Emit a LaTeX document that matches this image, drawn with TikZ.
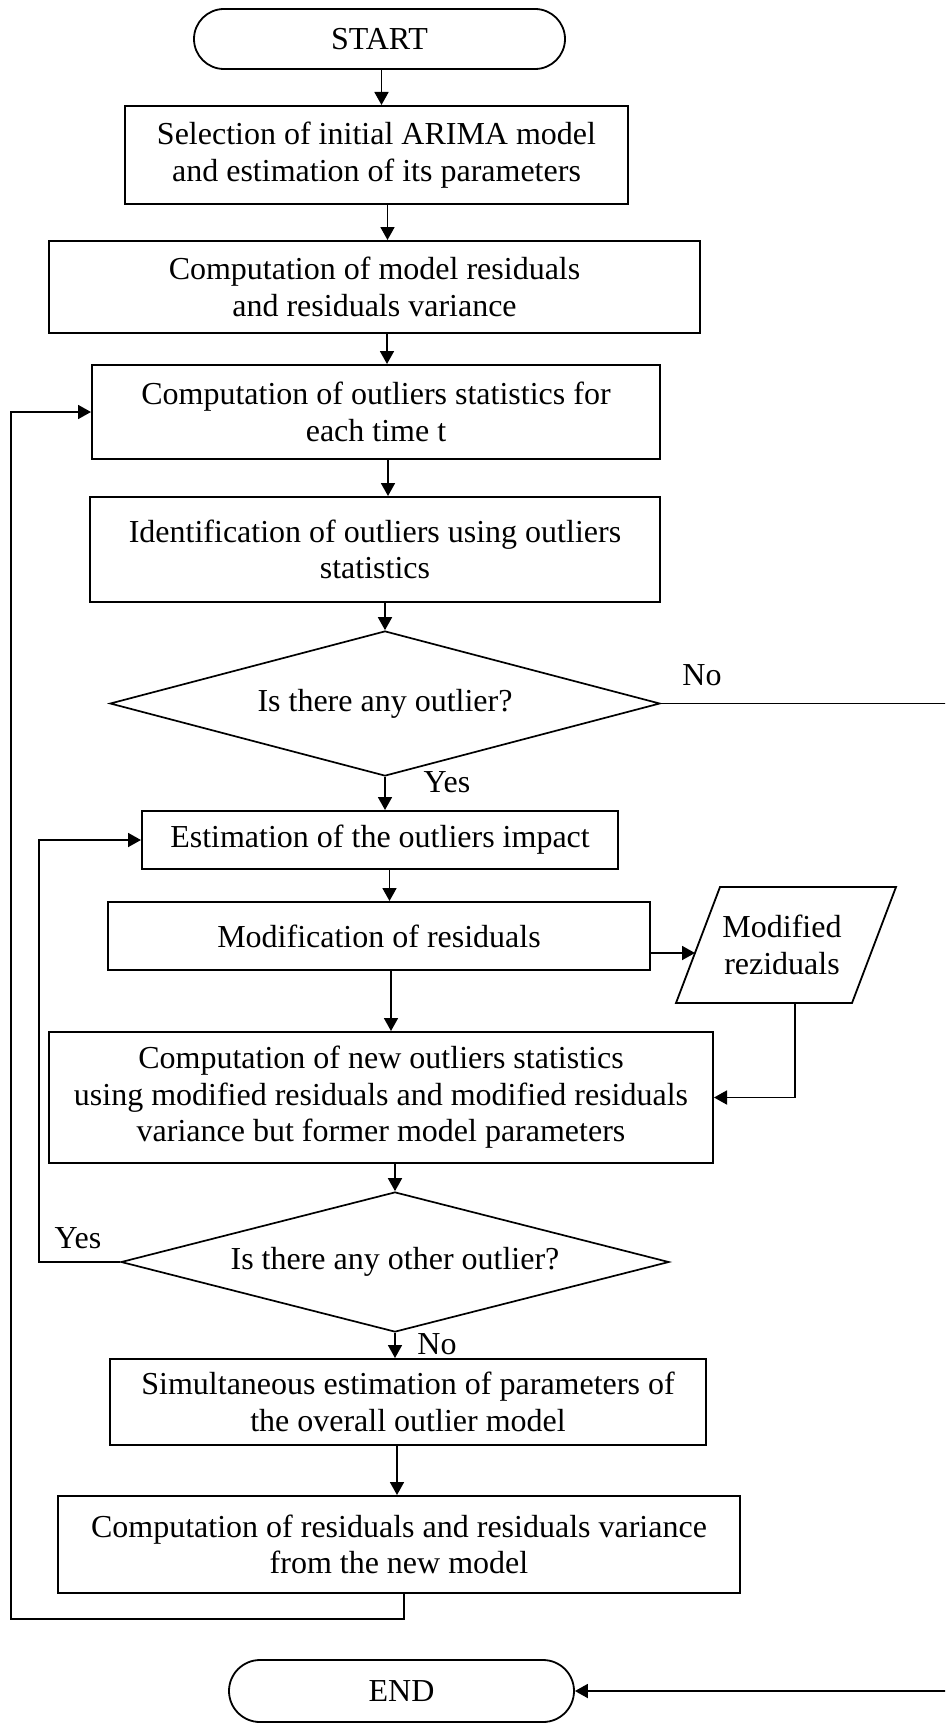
\documentclass[tikz,border=0pt]{standalone}
\usepackage{fontspec}
\setmainfont{Liberation Serif}
\usetikzlibrary{arrows.meta,shapes.geometric}
\begin{document}
\begin{tikzpicture}[x=1pt,y=-1pt,
  every node/.style={font=\fontsize{32}{36.5}\selectfont, align=center, inner sep=0pt},
  box/.style={draw, line width=2pt, rectangle},
  term/.style={draw, line width=1.8pt, rounded corners=30pt},
  decision/.style={draw, line width=1.7pt, diamond, aspect=3.9},
  conn/.style={line width=1.8pt},
  arr/.style={conn, -{Triangle[length=13pt,width=14pt]}}
]
\useasboundingbox (0,0) rectangle (945,1723);
\fill[white] (0,0) rectangle (945,1723);
\clip (0,0) rectangle (945,1723);

% nodes
\node[term, minimum width=371pt, minimum height=60pt] (start) at (379.5,39) {START};
\node[box, minimum width=503pt, minimum height=98pt] (b1) at (376.5,155) {Selection of initial ARIMA model\\and estimation of its parameters};
\node[box, minimum width=651pt, minimum height=92pt] (b2) at (374.5,287) {Computation of model residuals\\and residuals variance};
\node[box, minimum width=568pt, minimum height=94pt] (b3) at (376,412) {Computation of outliers statistics for\\each time t};
\node[box, minimum width=570pt, minimum height=105pt] (b4) at (375,549.5) {Identification of outliers using outliers\\statistics};
\node[decision, minimum width=550pt, minimum height=145pt] (d1) at (385,703.5) {Is there any outlier?};
\node[box, minimum width=476pt, minimum height=58pt] (b5) at (380,840) {Estimation of the outliers impact};
\node[box, minimum width=542pt, minimum height=68pt] (b6) at (379,936) {Modification of residuals};
\node[box, minimum width=664pt, minimum height=131pt] (b7) at (381,1097.5) {Computation of new outliers statistics\\using modified residuals and modified residuals\\variance but former model parameters};
\node[decision, minimum width=548pt, minimum height=140pt] (d2) at (395,1262) {Is there any other outlier?};
\node[box, minimum width=596pt, minimum height=86pt] (b8) at (408,1402) {Simultaneous estimation of parameters of\\the overall outlier model};
\node[box, minimum width=682pt, minimum height=97pt] (b9) at (399,1544.5) {Computation of residuals and residuals variance\\from the new model};
\node[term, rounded corners=31pt, minimum width=345pt, minimum height=62pt] (end) at (401.5,1691) {END};

% parallelogram (data)
\coordinate (pBL) at (676,1003);
\coordinate (pBR) at (852,1003);
\coordinate (pTR) at (896,887);
\coordinate (pTL) at (720,887);
\draw[line width=1.8pt] (pBL) -- (pBR) -- (pTR) -- (pTL) -- cycle;
\node (para) at (782,945) {Modified\\reziduals};
\coordinate (pIn) at (695,953);
\coordinate (pOut) at (795,1003);

% helper coordinates
\coordinate (yesL) at (39,1262);
\coordinate (loopL) at (11,1619);
\coordinate (noR) at (958,703.5);

% labels
\node (no1) at (702,675) {No};
\node (yes1) at (447,782) {Yes};
\node (yes2) at (78,1238) {Yes};
\node (no2) at (437,1344) {No};

% connectors
\draw[arr] ([xshift=2pt]start.south) -- ([xshift=2pt]start.south |- b1.north);
\draw[arr] ([xshift=11pt]b1.south) -- ([xshift=11pt]b1.south |- b2.north);
\draw[arr] ([xshift=12.5pt]b2.south) -- ([xshift=12.5pt]b2.south |- b3.north);
\draw[arr] ([xshift=12pt]b3.south) -- ([xshift=12pt]b3.south |- b4.north);
\draw[arr] (d1.north |- b4.south) -- (d1.north);
\draw[arr] (d1.south) -- (d1.south |- b5.north);
\draw[arr] ([xshift=9.5pt]b5.south) -- ([xshift=9.5pt]b5.south |- b6.north);
\draw[arr] ([xshift=12pt]b6.south) -- ([xshift=12pt]b6.south |- b7.north);
\draw[arr] (d2.north |- b7.south) -- (d2.north);
\draw[arr] (d2.south) -- (d2.south |- b8.north);
\draw[arr] ([xshift=-11pt]b8.south) -- ([xshift=-11pt]b8.south |- b9.north);
\draw[arr] (pIn -| b6.east) -- (pIn);
\draw[arr] (pOut) |- (b7.east);
\draw[arr] (d2.west) -- (yesL) |- (b5.west);
\draw[arr] ([xshift=5pt]b9.south) |- (loopL) |- (b3.west);
\draw[arr] (d1.east) -- (noR) |- (end.east);
\end{tikzpicture}
\end{document}
